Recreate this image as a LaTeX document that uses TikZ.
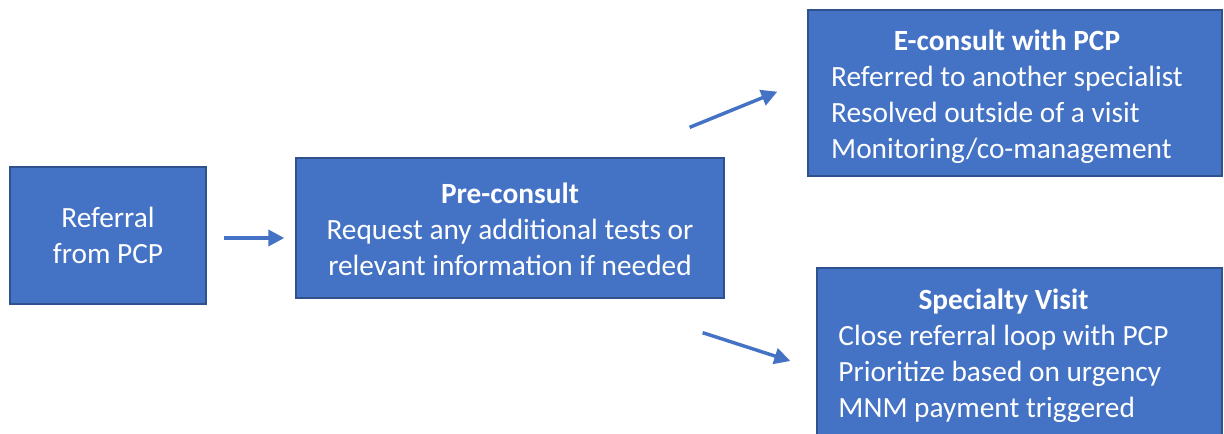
\documentclass[tikz,border=0pt]{standalone}
\usepackage{fontspec}
\setmainfont{Carlito}
\usetikzlibrary{arrows.meta}
\usetikzlibrary{calc}
\definecolor{boxblue}{RGB}{68,114,196}
\definecolor{edgeblue}{RGB}{47,82,143}
\newcommand{\lowerby}[2]{\raisebox{-#1}[\height][\depth]{#2}}
\tikzset{
  stepbox/.style={draw=edgeblue, fill=boxblue, line width=1pt, text=white, inner sep=0pt,
    font=\fontsize{22}{27}\selectfont},
  link/.style={draw=boxblue, line width=2.6pt, -{Triangle[length=12pt,width=12pt]}}
}

\begin{document}
\begin{tikzpicture}[x=0.75pt,y=0.75pt,yscale=-1,xscale=1]
\path[use as bounding box] (0,0) rectangle (1224,433);
\clip (0,0) rectangle (1224,433);

%Boxes
\node [stepbox, minimum width=147pt, minimum height=102.75pt, align=center] (ref) at (108,235.5)
  {Referral\\from PCP};
\node [stepbox, minimum width=321pt, minimum height=105pt] (pre) at (510,228)
  {\lowerby{3.5pt}{\begin{tabular}{@{}c@{}}
   \textbf{Pre-consult}\\
   Request any additional tests or\\
   relevant information if needed
   \end{tabular}}};
\node [stepbox, minimum width=310.5pt, minimum height=124.5pt] (econ) at (1015,93)
  {\hspace*{-12pt}\lowerby{3pt}{\begin{tabular}{@{}l@{}}
   \multicolumn{1}{@{}c@{}}{\textbf{E-consult with PCP}}\\
   Referred to another specialist\\
   Resolved outside of a visit\\
   Monitoring/co-management
   \end{tabular}}};
\node [stepbox, minimum width=303.75pt, minimum height=129pt] (spec) at (1019.5,354)
  {\hspace*{-24pt}\lowerby{2pt}{\begin{tabular}{@{}l@{}}
   \multicolumn{1}{@{}c@{}}{\textbf{Specialty Visit}}\\
   Close referral loop with PCP\\
   Prioritize based on urgency\\
   MNM payment triggered
   \end{tabular}}};

%Arrows
\coordinate (r1) at ($(ref.east)+(17,2.5)$);
\coordinate (p1) at ($(pre.west)+(-11,10)$);
\coordinate (p2) at ($(pre.north east)+(-35,-30)$);
\coordinate (e1) at ($(econ.south west)+(-30,-85)$);
\coordinate (p3) at ($(pre.south east)+(-22,34)$);
\coordinate (s1) at ($(spec.west)+(-26,7)$);
\draw [link] (r1) -- (p1);
\draw [link] (p2) -- (e1);
\draw [link] (p3) -- (s1);

\end{tikzpicture}
\end{document}
